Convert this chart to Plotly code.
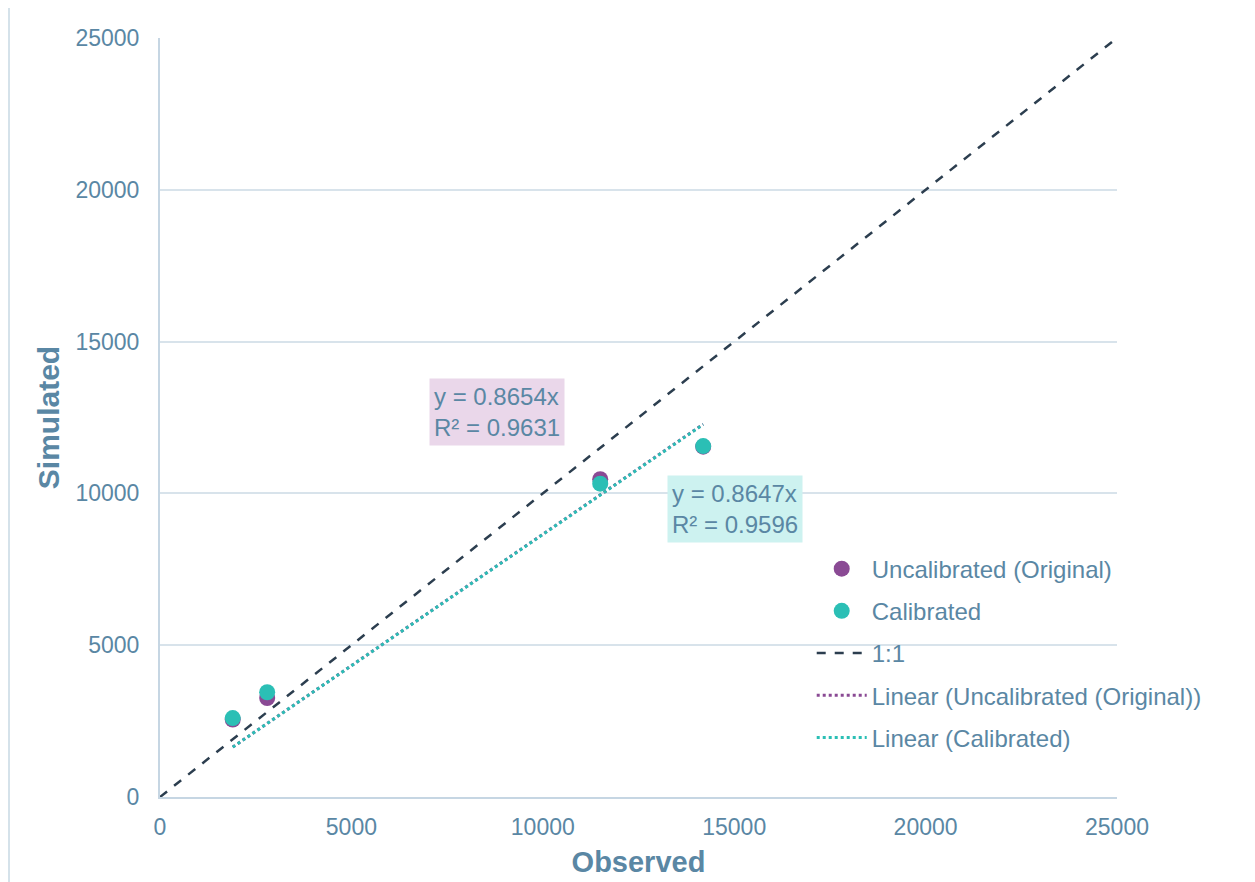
import plotly.graph_objects as go

# Data
observed = [1900, 2800, 11500, 14190]
uncalibrated = [2550, 3260, 10470, 11540]
calibrated = [2600, 3450, 10320, 11560]

slope_uncal = 0.8654
r2_uncal = 0.9631
slope_cal = 0.8647
r2_cal = 0.9596

one_to_one = [0, 25000]
tick_vals = [0, 5000, 10000, 15000, 20000, 25000]
tick_text = ["0", "5000", "10000", "15000", "20000", "25000"]

PURPLE = "#8a4a94"
TEAL = "#2bbfb5"
TXT = "#5a87a4"
GRID = "#d8e3eb"
AXIS = "#c6d6e3"
FONT = "Liberation Sans, Arial, sans-serif"

x_fit = [min(observed), max(observed)]

fig = go.Figure()
fig.add_trace(go.Scatter(x=observed, y=uncalibrated, mode="markers",
                         name="Uncalibrated (Original)", legendgroup="a",
                         marker=dict(color=PURPLE, size=16)))
fig.add_trace(go.Scatter(x=observed, y=calibrated, mode="markers",
                         name="Calibrated", legendgroup="b",
                         marker=dict(color=TEAL, size=16)))
fig.add_trace(go.Scatter(x=one_to_one, y=one_to_one, mode="lines", name="1:1",
                         legendgroup="c",
                         line=dict(color="#2c3e4f", width=2.5, dash="dash")))
fig.add_trace(go.Scatter(x=x_fit, y=[slope_uncal * v for v in x_fit], mode="lines",
                         name="Linear (Uncalibrated (Original))", legendgroup="d",
                         line=dict(color=PURPLE, width=3, dash="dot")))
fig.add_trace(go.Scatter(x=x_fit, y=[slope_cal * v for v in x_fit], mode="lines",
                         name="Linear (Calibrated)", legendgroup="e",
                         line=dict(color=TEAL, width=3, dash="dot")))

fig.add_annotation(x=8800, y=12665, xref="x", yref="y", showarrow=False,
                   text=f"y = {slope_uncal}x<br>R² = {r2_uncal}", align="left",
                   font=dict(family=FONT, size=24, color=TXT),
                   bgcolor="#ead7ea", borderpad=4)
fig.add_annotation(x=15030, y=9500, xref="x", yref="y", showarrow=False,
                   text=f"y = {slope_cal}x<br>R² = {r2_cal}", align="left",
                   font=dict(family=FONT, size=24, color=TXT),
                   bgcolor="#cdf2f0", borderpad=4)

# left border line of the picture
fig.add_shape(type="line", xref="paper", yref="paper",
              x0=-151 / 957, x1=-151 / 957, y0=-0.12, y1=1.06,
              line=dict(color="#d5e2ea", width=2))

fig.update_layout(
    width=1247, height=874,
    margin=dict(l=152, r=138, t=30, b=85),
    paper_bgcolor="white", plot_bgcolor="white",
    font=dict(family=FONT, color=TXT, size=23),
    showlegend=True,
    legend=dict(x=0.681, xanchor="left", y=0.33, yanchor="top",
                bgcolor="rgba(0,0,0,0)", font=dict(size=24, color=TXT),
                tracegroupgap=8, itemwidth=50),
    xaxis=dict(range=[0, 25000], tickvals=tick_vals, ticktext=tick_text, showgrid=False,
               showline=True, linecolor=AXIS, linewidth=2, zeroline=False,
               automargin=False,
               tickfont=dict(size=23, color=TXT), ticks="", ticklabelstandoff=8,
               title=dict(text="<b>Observed</b>", font=dict(size=29, color=TXT), standoff=13)),
    yaxis=dict(range=[0, 25000], tickvals=tick_vals, ticktext=tick_text, showgrid=True,
               gridcolor=GRID, gridwidth=2, showline=True, linecolor=AXIS, linewidth=2,
               zeroline=False, automargin=False, tickfont=dict(size=23, color=TXT), ticks="",
               ticklabelstandoff=14,
               title=dict(text="<b>Simulated</b>", font=dict(size=30, color=TXT), standoff=7)),
)

fig.write_html("out.html")
